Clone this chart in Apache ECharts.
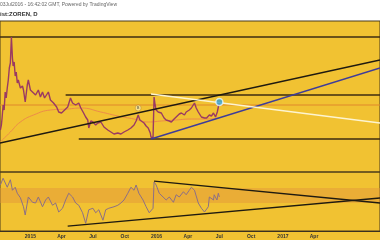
<!DOCTYPE html>
<html><head><meta charset="utf-8">
<script src="https://cdn.jsdelivr.net/npm/echarts@6/dist/echarts.min.js"></script>
<style>html,body{margin:0;padding:0;background:#fff;}#c{width:380px;height:240px;}</style>
</head><body><div id="c"></div>
<script>
// ---- data ----
const priceDates = ['2014-10-06','2014-10-09','2014-10-11','2014-10-14','2014-10-17','2014-10-20','2014-10-23','2014-10-26','2014-10-29','2014-11-01','2014-11-04','2014-11-07','2014-11-10','2014-11-12','2014-11-15','2014-11-18','2014-11-21','2014-11-24','2014-11-27','2014-12-03','2014-12-09','2014-12-12','2014-12-17','2014-12-23','2014-12-26','2015-01-01','2015-01-10','2015-01-16','2015-01-18','2015-01-24','2015-01-30','2015-02-05','2015-02-11','2015-02-14','2015-02-22','2015-02-28','2015-03-09','2015-03-18','2015-03-24','2015-04-01','2015-04-10','2015-04-19','2015-04-27','2015-05-03','2015-05-12','2015-05-21','2015-05-27','2015-06-04','2015-06-10','2015-06-16','2015-06-19','2015-06-25','2015-07-01','2015-07-09','2015-07-15','2015-07-24','2015-08-02','2015-08-13','2015-08-22','2015-08-31','2015-09-11','2015-09-20','2015-09-29','2015-10-10','2015-10-19','2015-10-28','2015-11-03','2015-11-09','2015-11-14','2015-11-17','2015-11-26','2015-12-02','2015-12-08','2015-12-14','2015-12-16','2015-12-22','2015-12-25','2015-12-28','2015-12-31','2016-01-06','2016-01-09','2016-01-15','2016-01-23','2016-01-29','2016-02-07','2016-02-13','2016-02-21','2016-02-27','2016-03-07','2016-03-13','2016-03-22','2016-03-27','2016-04-05','2016-04-11','2016-04-20','2016-04-25','2016-05-01','2016-05-10','2016-05-19','2016-05-25','2016-06-02','2016-06-08','2016-06-14','2016-06-20','2016-06-25','2016-06-28','2016-07-01'];
const priceValues = [1.02,1.07,1.14,1.27,1.22,1.40,1.34,1.44,1.52,1.64,1.69,1.95,1.74,1.66,1.70,1.56,1.60,1.49,1.52,1.44,1.46,1.42,1.30,1.47,1.52,1.42,1.39,1.37,1.35,1.42,1.35,1.40,1.34,1.32,1.40,1.32,1.29,1.25,1.20,1.19,1.22,1.25,1.34,1.29,1.27,1.29,1.24,1.19,1.15,1.12,1.04,1.11,1.10,1.07,1.09,1.10,1.05,1.02,1.00,0.98,0.99,0.98,1.00,1.02,1.04,1.07,1.11,1.17,1.12,1.10,1.09,1.06,1.04,0.99,0.95,0.94,1.35,1.27,1.22,1.20,1.19,1.19,1.14,1.12,1.11,1.10,1.13,1.15,1.18,1.19,1.17,1.20,1.22,1.24,1.29,1.24,1.20,1.15,1.14,1.14,1.17,1.16,1.19,1.15,1.20,1.25,1.30];

const maDates = ['2014-10-06','2014-11-04','2014-12-03','2015-01-10','2015-02-28','2015-04-19','2015-05-27','2015-07-24','2015-09-11','2015-10-28','2015-12-08','2016-01-15','2016-02-27','2016-04-11','2016-05-25','2016-07-01'];
const maValues = [0.90,1.00,1.10,1.17,1.22,1.23,1.24,1.20,1.16,1.13,1.10,1.11,1.12,1.13,1.13,1.14];

const rsiDates = ['2014-10-06','2014-10-14','2014-10-26','2014-11-04','2014-11-10','2014-11-18','2014-11-24','2014-12-03','2014-12-12','2014-12-17','2014-12-26','2015-01-07','2015-01-16','2015-01-24','2015-02-05','2015-02-14','2015-02-22','2015-03-06','2015-03-15','2015-03-24','2015-04-04','2015-04-13','2015-04-22','2015-05-03','2015-05-12','2015-05-21','2015-06-01','2015-06-10','2015-06-19','2015-07-01','2015-07-09','2015-07-18','2015-07-30','2015-08-07','2015-08-16','2015-08-31','2015-09-11','2015-09-20','2015-09-29','2015-10-10','2015-10-19','2015-10-28','2015-11-03','2015-11-11','2015-11-23','2015-12-02','2015-12-11','2015-12-22','2015-12-25','2015-12-31','2016-01-09','2016-01-20','2016-01-29','2016-02-07','2016-02-19','2016-02-27','2016-03-07','2016-03-19','2016-03-27','2016-04-05','2016-04-11','2016-04-20','2016-05-01','2016-05-10','2016-05-19','2016-05-30','2016-06-02','2016-06-14','2016-06-16','2016-06-24','2016-06-28','2016-07-01'];
const rsiValues = [74,83,71,81,67,71,63,57,45,34,58,51,50,58,45,54,58,47,50,38,43,54,63,58,50,47,37,23,41,43,37,41,27,41,43,45,47,50,54,63,71,67,74,63,54,45,37,43,78,74,63,58,54,58,51,61,58,65,61,67,71,67,50,43,38,45,58,54,61,54,63,58];
const rsiBand = [50, 70];

// drawn levels and trend lines: [startDate, startValue, endDate, endValue]
const axisStart = '2014-10-05';
const axisEnd = '2017-10-09';
const levelTop = [axisStart, 1.95, axisEnd, 1.95];
const levelMid = ['2015-04-13', 1.37, axisEnd, 1.37];
const levelThin = [axisStart, 1.27, axisEnd, 1.27];
const levelLow = ['2015-05-21', 0.93, axisEnd, 0.93];
const trendBlack = [axisStart, 0.89, axisEnd, 1.72];
const trendBlue = ['2015-12-16', 0.93, axisEnd, 1.64];
const trendWhite = ['2015-12-16', 1.38, axisEnd, 1.09];
const rsiTrendLow = ['2015-04-19', 19.3, axisEnd, 56.7];
const rsiTrendHigh = ['2015-12-25', 79.3, axisEnd, 50.0];

const markerDates = ['2015-11-09'];
const markerValues = [1.24];
const markerLabels = ['B'];

const tickDates = ['2015-01-01','2015-04-01','2015-07-01','2015-10-01','2016-01-01','2016-04-01','2016-07-01','2016-10-01','2017-01-01','2017-04-01'];
const tickLabels = ['2015','Apr','Jul','Oct','2016','Apr','Jul','Oct','2017','Apr'];

// ---- chart ----
const parse = d => {
  const p = d.split('-').map(Number);
  return Date.UTC(p[0], p[1] - 1, p[2]);
};
const tickTimes = tickDates.map(parse);
const zip = (a, b) => a.map((d, i) => [parse(d), b[i]]);
const seg = (s, xi, color, width, z) => ({
  type: 'line', xAxisIndex: xi, yAxisIndex: xi, symbol: 'none', silent: true, z: z || 3,
  data: [[parse(s[0]), s[1]], [parse(s[2]), s[3]]],
  lineStyle: { color: color, width: width }
});

const chart = echarts.init(document.getElementById('c'), null, { renderer: 'canvas' });
chart.setOption({
  animation: false,
  backgroundColor: '#f1c232',
  graphic: [
    { type: 'rect', left: 0, top: 0, shape: { width: 380, height: 21 }, style: { fill: '#ffffff' }, z: -1 },
    { type: 'text', left: 0, top: 2, style: { text: '03Jul2016 - 16:42:02 GMT, Powered by TradingView', font: '5px "Liberation Sans", sans-serif', fill: '#666' } },
    { type: 'text', left: 0, top: 11, style: { text: 'ist:ZOREN, D', font: 'bold 6px "Liberation Sans", sans-serif', fill: '#333' } }
  ],
  grid: [
    { left: -1, right: -1, top: 21, height: 151, show: true, borderColor: '#4b3b1b', borderWidth: 1, backgroundColor: 'transparent' },
    { left: -1, right: -1, top: 172, height: 59, show: true, borderColor: '#4b3b1b', borderWidth: 1, backgroundColor: 'transparent' }
  ],
  xAxis: [
    { type: 'value', gridIndex: 0, min: parse(axisStart), max: parse(axisEnd), show: false, splitLine: { show: false } },
    { type: 'value', gridIndex: 1, min: parse(axisStart), max: parse(axisEnd),
      axisLine: { show: true, lineStyle: { color: '#3a3020', width: 1 } },
      axisTick: { show: false }, splitLine: { show: false },
      axisLabel: {
        customValues: tickTimes, margin: 3, fontSize: 5, color: '#333', fontWeight: 'bold',
        fontFamily: 'Liberation Sans',
        formatter: function (v) {
          for (let i = 0; i < tickTimes.length; i++) {
            if (Math.abs(tickTimes[i] - v) < 86400000) return tickLabels[i];
          }
          return '';
        }
      }
    }
  ],
  yAxis: [
    { type: 'value', gridIndex: 0, min: 0.60, max: 2.11, show: false, splitLine: { show: false } },
    { type: 'value', gridIndex: 1, min: 12.67, max: 91.33, show: false, splitLine: { show: false } }
  ],
  series: [
    seg(levelTop, 0, '#3d2b10', 1.5),
    seg(levelMid, 0, '#3d2b10', 1.5),
    seg(levelThin, 0, '#e0882a', 1),
    seg(levelLow, 0, '#3d2b10', 1.5),
    {
      type: 'line', xAxisIndex: 0, yAxisIndex: 0, symbol: 'none', smooth: true, z: 4,
      data: zip(maDates, maValues), lineStyle: { color: '#ec8b4a', width: 1 }
    },
    {
      type: 'line', xAxisIndex: 0, yAxisIndex: 0, symbol: 'none', z: 5,
      data: zip(priceDates, priceValues), lineStyle: { color: '#9a3a62', width: 1.4 }
    },
    seg(trendBlack, 0, '#1f1a10', 1.5, 6),
    seg(trendBlue, 0, '#3e3c9a', 1.4, 6),
    seg(trendWhite, 0, '#fdf4d0', 1.3, 6),
    {
      type: 'scatter', xAxisIndex: 0, yAxisIndex: 0, z: 7, symbolSize: 6,
      data: markerDates.map((d, i) => ({ value: [parse(d), markerValues[i]], label: { show: true, formatter: markerLabels[i] } })),
      itemStyle: { color: '#fbe9a0', borderColor: '#b08020', borderWidth: 0.6 },
      label: { position: 'inside', fontSize: 4, color: '#333' }
    },
    {
      type: 'scatter', xAxisIndex: 0, yAxisIndex: 0, z: 8, symbolSize: 7,
      data: [[parse(priceDates[priceDates.length - 1]), priceValues[priceValues.length - 1]]],
      itemStyle: { color: '#2f9fd8', borderColor: '#e8f6ff', borderWidth: 1.5 }
    },
    {
      type: 'line', xAxisIndex: 1, yAxisIndex: 1, symbol: 'none', z: 5,
      data: zip(rsiDates, rsiValues), lineStyle: { color: '#8c6f86', width: 1 },
      markArea: { silent: true, itemStyle: { color: 'rgba(226,148,60,0.45)' }, data: [[{ yAxis: rsiBand[0] }, { yAxis: rsiBand[1] }]] }
    },
    seg(rsiTrendLow, 1, '#1f1a10', 1.3, 6),
    seg(rsiTrendHigh, 1, '#1f1a10', 1.3, 6)
  ]
});
</script>
</body></html>
